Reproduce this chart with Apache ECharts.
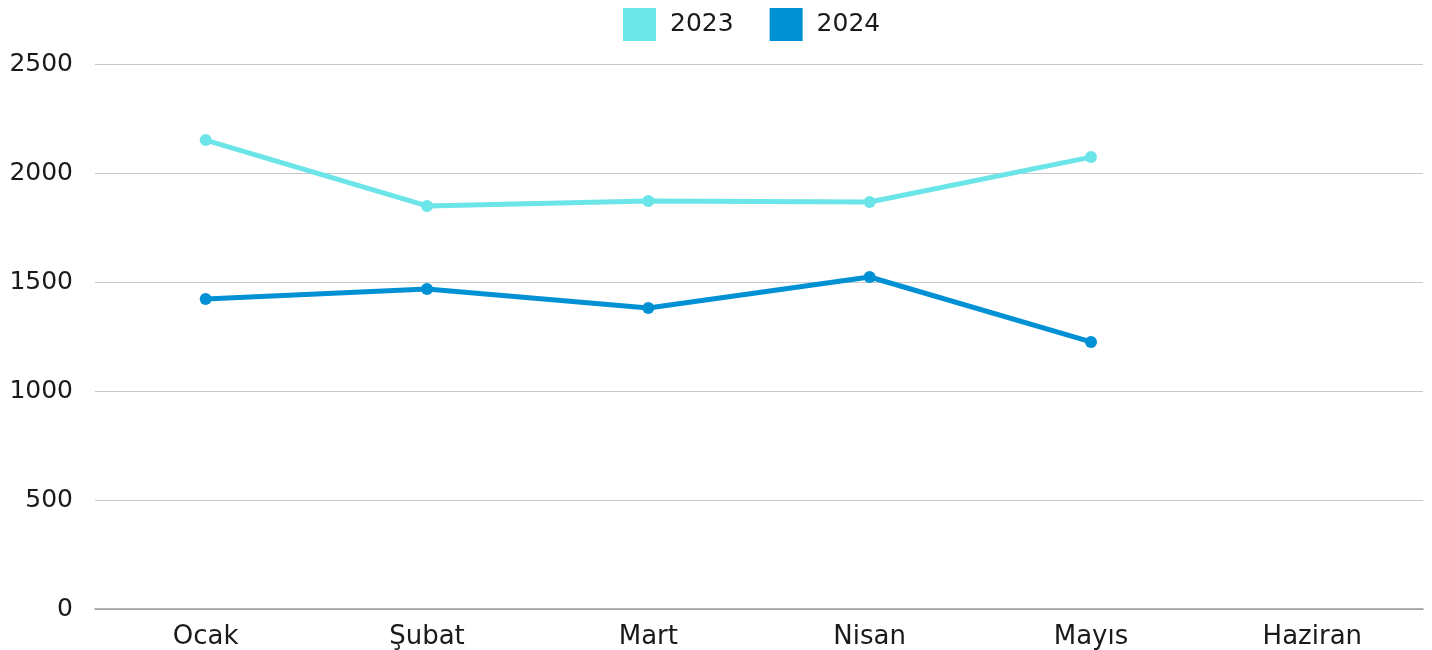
<!DOCTYPE html>
<html>
<head>
<meta charset="utf-8">
<script src="https://cdn.jsdelivr.net/npm/echarts@6/dist/echarts.min.js"></script>
<style>
  html, body { margin: 0; padding: 0; background: #fff; }
  #chart { width: 1432px; height: 650px; }
</style>
</head>
<body>
<div id="chart"></div>
<script>
// aylar
var months = ['Ocak', 'Şubat', 'Mart', 'Nisan', 'Mayıs', 'Haziran'];
// yıllara göre değerler
var values2023 = [2151, 1849, 1872, 1867, 2073, null];
var values2024 = [1422, 1468, 1381, 1523, 1225, null];
var yTicks = [0, 500, 1000, 1500, 2000, 2500];

var font = 'DejaVu Sans';
var chart = echarts.init(document.getElementById('chart'));
var option = {
  animation: false,
  textStyle: { fontFamily: font },
  legend: {
    data: ['2023', '2024'],
    left: 618,
    top: 3,
    itemWidth: 33,
    itemHeight: 33,
    itemGap: 36,
    icon: 'rect',
    textStyle: { fontSize: 25, color: '#1a1a1a', fontFamily: font, padding: [2, 0, 0, 9] }
  },
  grid: { left: 95, right: 9, top: 64, bottom: 41 },
  xAxis: {
    type: 'category',
    data: months,
    boundaryGap: true,
    axisLine: { lineStyle: { color: '#999', width: 1.5 } },
    axisTick: { show: false },
    axisLabel: { fontSize: 26, color: '#1a1a1a', margin: 15 }
  },
  yAxis: {
    type: 'value',
    min: yTicks[0],
    max: yTicks[yTicks.length - 1],
    interval: 500,
    axisLine: { show: false },
    axisTick: { show: false },
    splitLine: { lineStyle: { color: '#c8c8c8', width: 1 } },
    axisLabel: {
      fontSize: 25, color: '#1a1a1a', margin: 22,
      padding: [3, 0, 0, 0],
      formatter: function (v) { return String(v); }
    }
  },
  series: [
    {
      name: '2023',
      type: 'line',
      data: values2023,
      color: '#6ce5e8',
      lineStyle: { width: 5 },
      symbol: 'circle',
      symbolSize: 12
    },
    {
      name: '2024',
      type: 'line',
      data: values2024,
      color: '#0091d5',
      lineStyle: { width: 5 },
      symbol: 'circle',
      symbolSize: 12
    }
  ]
};
chart.setOption(option);
</script>
</body>
</html>
